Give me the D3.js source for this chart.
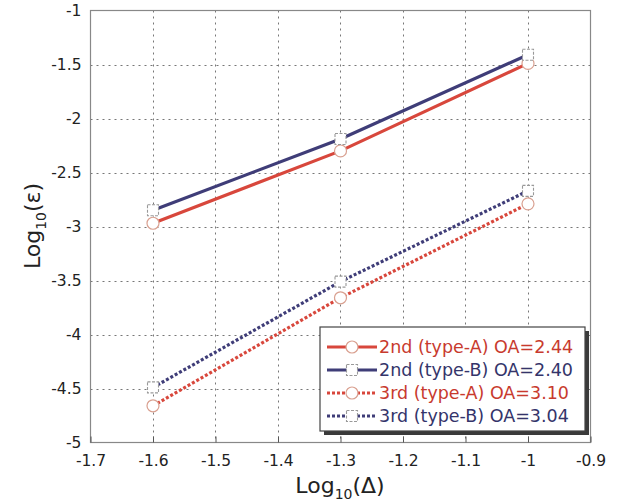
<!DOCTYPE html>
<html><head><meta charset="utf-8">
<script src="https://cdn.jsdelivr.net/npm/d3@7"></script>
<style>body{margin:0;background:#fff}svg{display:block}text{font-family:"DejaVu Sans",Verdana,sans-serif}</style>
</head><body><svg id="c" width="623" height="504"></svg>
<script>
const xValues = [-1.6, -1.3, -1.0];
const seriesNames = ["2nd (type-A) OA=2.44", "2nd (type-B) OA=2.40", "3rd (type-A) OA=3.10", "3rd (type-B) OA=3.04"];
const s2A = [-2.97, -2.30, -1.49];
const s2B = [-2.85, -2.19, -1.41];
const s3A = [-4.66, -3.66, -2.79];
const s3B = [-4.49, -3.51, -2.67];
const xTicks = [-1.7, -1.6, -1.5, -1.4, -1.3, -1.2, -1.1, -1, -0.9];
const yTicks = [-1, -1.5, -2, -2.5, -3, -3.5, -4, -4.5, -5];

const red = "#d8473c", navy = "#3f3d78";
const series = [
  {name: seriesNames[0], vals: s2A, color: red, dash: null, shape: "circle"},
  {name: seriesNames[1], vals: s2B, color: navy, dash: null, shape: "square"},
  {name: seriesNames[2], vals: s3A, color: red, dash: "3,2", shape: "circle"},
  {name: seriesNames[3], vals: s3B, color: navy, dash: "3,2", shape: "square"}
];

const svg = d3.select("#c");
const L = 90.5, R = 590.5, T = 10.5, B = 442.5;
const x = d3.scaleLinear().domain([-1.7, -0.9]).range([L, R]);
const y = d3.scaleLinear().domain([-5, -1]).range([B, T]);

// grid
const g = svg.append("g");
g.selectAll(".gx").data(xTicks.slice(1, -1)).join("line")
  .attr("x1", d => Math.round(x(d)) + 0.5).attr("x2", d => Math.round(x(d)) + 0.5)
  .attr("y1", T).attr("y2", B).attr("stroke", "#777").attr("stroke-dasharray", "2,4");
g.selectAll(".gy").data(yTicks.slice(1, -1)).join("line")
  .attr("y1", d => Math.round(y(d)) + 0.5).attr("y2", d => Math.round(y(d)) + 0.5)
  .attr("x1", L).attr("x2", R).attr("stroke", "#777").attr("stroke-dasharray", "2,4");

// frame
svg.append("rect").attr("x", L).attr("y", T).attr("width", R - L).attr("height", B - T)
  .attr("fill", "none").attr("stroke", "#888").attr("stroke-width", 1.2);

// axes
const xAxis = d3.axisBottom(x).tickValues(xTicks).tickSize(-6).tickPadding(12).tickFormat(d => String(+d.toFixed(1)));
const ax = svg.append("g").attr("transform", `translate(0,${B})`).call(xAxis);
ax.select(".domain").remove();
ax.selectAll(".tick line").attr("stroke", "#555");
ax.selectAll("text").attr("font-size", 15.5).attr("fill", "#222");
const yAxis = d3.axisLeft(y).tickValues(yTicks).tickSize(0).tickPadding(9).tickFormat(d => String(+d.toFixed(1)));
const ay = svg.append("g").attr("transform", `translate(${L},0)`).call(yAxis);
ay.select(".domain").remove();
ay.selectAll("text").attr("font-size", 15.5).attr("fill", "#222");

// titles
const xt = svg.append("text").attr("x", 340).attr("y", 493).attr("text-anchor", "middle")
  .attr("font-size", 22).attr("fill", "#222");
xt.append("tspan").text("Log");
xt.append("tspan").text("10").attr("font-size", 14).attr("dy", 6);
xt.append("tspan").text("(Δ)").attr("dy", -6);
const yt = svg.append("text").attr("transform", "translate(40,226) rotate(-90)").attr("text-anchor", "middle")
  .attr("font-size", 22).attr("fill", "#222");
yt.append("tspan").text("Log");
yt.append("tspan").text("10").attr("font-size", 14).attr("dy", 6);
yt.append("tspan").text("(ε)").attr("dy", -6);

// lines
const line = d3.line().x((d, i) => x(xValues[i])).y(d => y(d));
function marker(sel, s, cx, cy) {
  if (s.shape === "circle") {
    sel.append("circle").attr("cx", cx).attr("cy", cy).attr("r", 6)
      .attr("fill", "#fff").attr("stroke", s.color === red ? "#d9a090" : "#999").attr("stroke-width", 1.2);
  } else {
    sel.append("rect").attr("x", cx - 5.5).attr("y", cy - 5.5).attr("width", 11).attr("height", 11)
      .attr("fill", "#fff").attr("stroke", "#999").attr("stroke-width", 1.1).attr("stroke-dasharray", "3,1.5");
  }
}
series.forEach(s => {
  svg.append("path").datum(s.vals).attr("d", line).attr("fill", "none")
    .attr("stroke", s.color).attr("stroke-width", 3.2)
    .attr("stroke-dasharray", s.dash);
});
series.forEach(s => {
  s.vals.forEach((v, i) => marker(svg, s, x(xValues[i]), y(v)));
});

// legend
const lg = svg.append("g");
const lx = 320, ly = 327, lw = 265, lh = 104;
lg.append("rect").attr("x", lx + 4).attr("y", ly + 4).attr("width", lw).attr("height", lh).attr("fill", "#3a3a3a");
lg.append("rect").attr("x", lx).attr("y", ly).attr("width", lw).attr("height", lh)
  .attr("fill", "#fff").attr("stroke", "#444").attr("stroke-width", 1.2);
series.forEach((s, i) => {
  const cy = ly + 20 + i * 23;
  lg.append("line").attr("x1", lx + 7).attr("x2", lx + 57).attr("y1", cy).attr("y2", cy)
    .attr("stroke", s.color).attr("stroke-width", 3).attr("stroke-dasharray", s.dash);
  marker(lg, s, lx + 32, cy);
  lg.append("text").attr("x", lx + 59).attr("y", cy).attr("dy", "0.36em")
    .attr("font-size", 17.5).attr("fill", s.color === red ? "#c83a2e" : "#34346a").text(s.name);
});
</script></body></html>
